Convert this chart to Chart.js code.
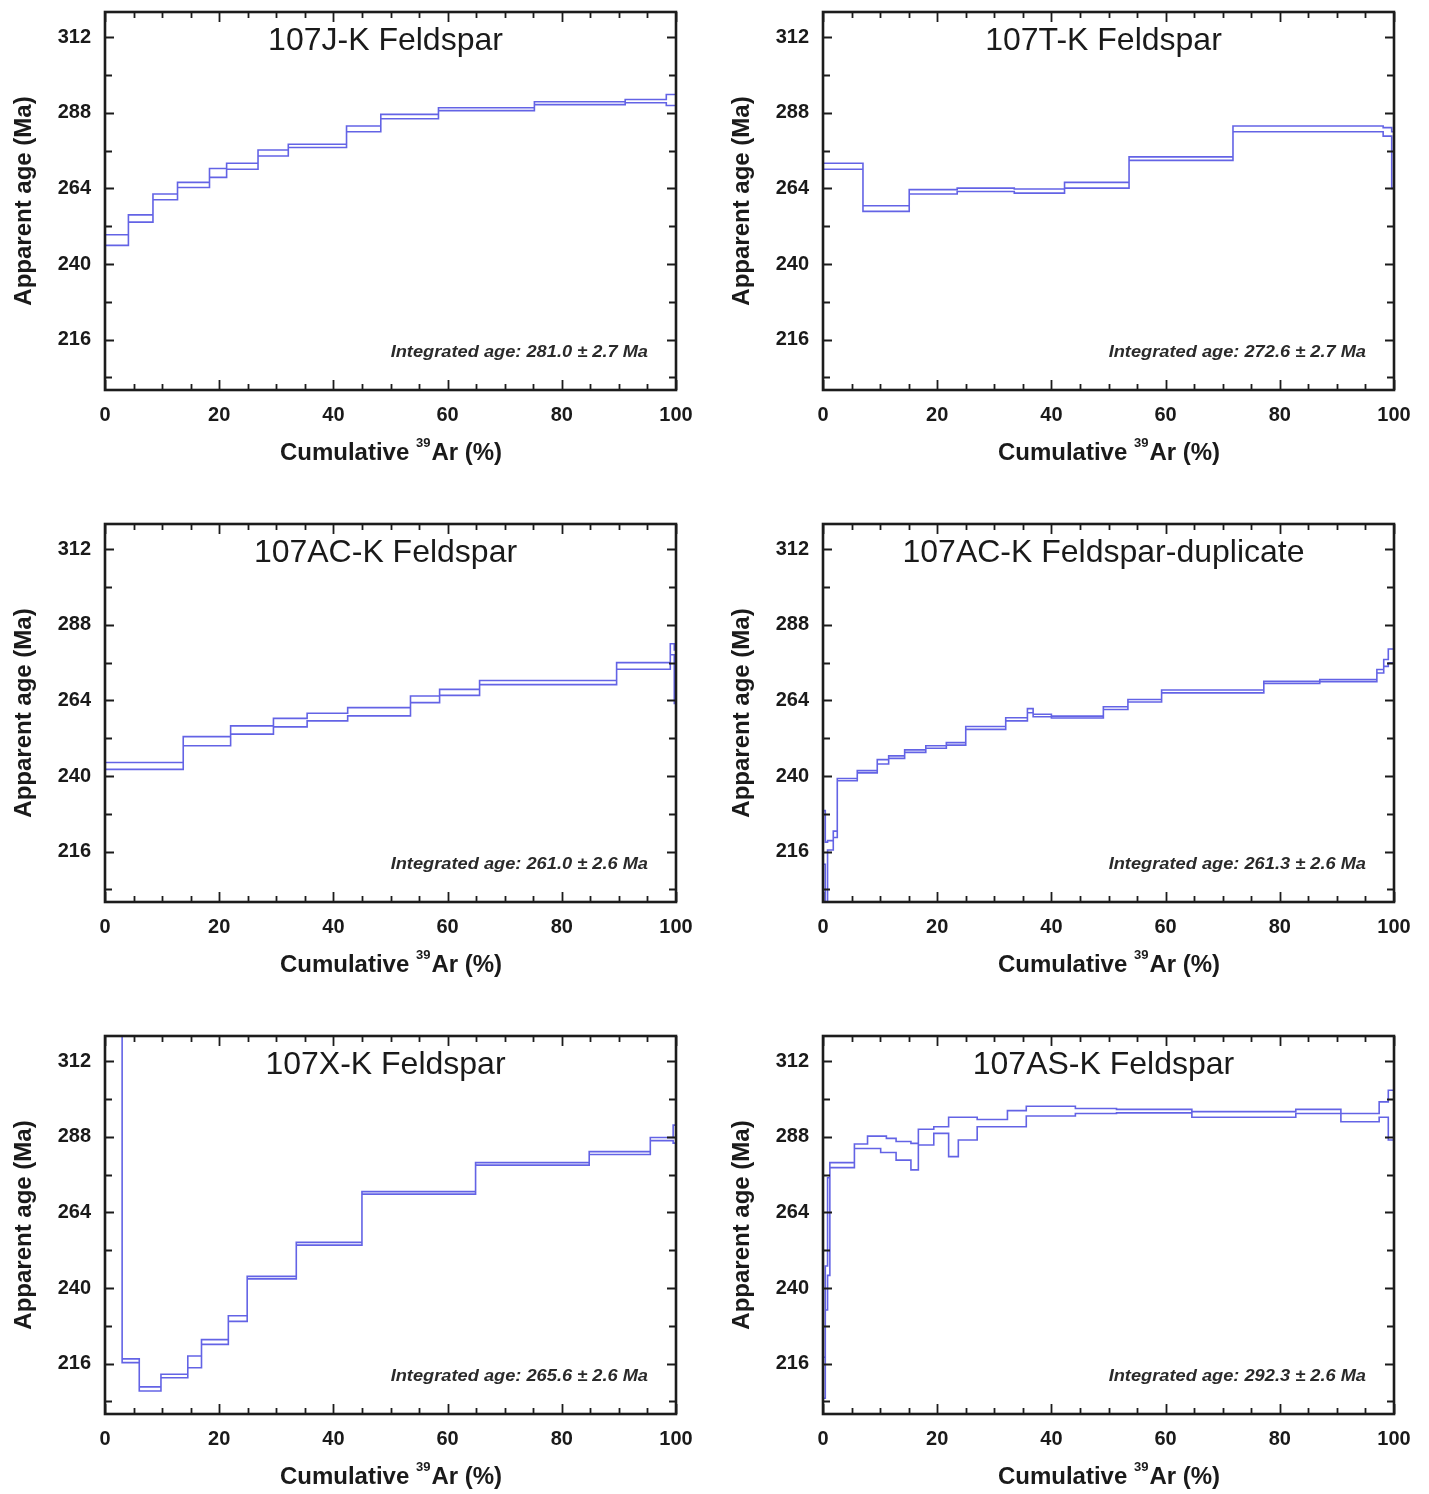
<!DOCTYPE html>
<html>
<head>
<meta charset="utf-8">
<title>K-feldspar age spectra</title>
<script src="https://cdn.jsdelivr.net/npm/chart.js@4.4.0/dist/chart.umd.min.js"></script>
<style>
  body { margin: 0; background: #fff; }
  #wrap { position: relative; width: 1429px; height: 1494px; overflow: hidden; }
  .panel { position: absolute; width: 714px; height: 500px; }
</style>
</head>
<body>
<div id="wrap">
  <div class="panel" style="left:0;top:0"><canvas id="c0" width="714" height="500"></canvas></div>
  <div class="panel" style="left:718px;top:0"><canvas id="c1" width="714" height="500"></canvas></div>
  <div class="panel" style="left:0;top:512px"><canvas id="c2" width="714" height="500"></canvas></div>
  <div class="panel" style="left:718px;top:512px"><canvas id="c3" width="714" height="500"></canvas></div>
  <div class="panel" style="left:0;top:1024px"><canvas id="c4" width="714" height="500"></canvas></div>
  <div class="panel" style="left:718px;top:1024px"><canvas id="c5" width="714" height="500"></canvas></div>
</div>
<script>
// axis ticks
var xTickVals = [0, 20, 40, 60, 80, 100];
var yTickVals = [216, 240, 264, 288, 312];

var sampleTitles = ['107J-K Feldspar', '107T-K Feldspar', '107AC-K Feldspar',
  '107AC-K Feldspar-duplicate', '107X-K Feldspar', '107AS-K Feldspar'];
var integratedAges = ['281.0 ± 2.7', '272.6 ± 2.7', '261.0 ± 2.6', '261.3 ± 2.6', '265.6 ± 2.6', '292.3 ± 2.6'];

// step edges (cumulative 39Ar %), then upper / lower age of each step (Ma)
var jCum = [0, 4.1, 8.4, 12.7, 18.3, 21.3, 26.8, 32.1, 42.3, 48.3, 58.4, 75.2, 91.1, 98.3, 100];
var jHi = [249.3, 255.6, 262.2, 265.9, 270.3, 272.0, 276.2, 278.0, 283.8, 287.5, 289.6, 291.5, 292.2, 293.8];
var jLo = [245.9, 253.3, 260.4, 264.3, 267.5, 270.1, 274.3, 277.0, 282.0, 286.1, 288.7, 290.6, 291.2, 290.3];

var tCum = [0, 7.0, 15.1, 23.5, 33.5, 42.3, 53.6, 71.8, 98.1, 99.6, 100];
var tHi = [272.0, 258.5, 263.6, 264.1, 263.8, 265.9, 274.0, 283.8, 283.3, 282.0];
var tLo = [270.1, 256.7, 262.2, 263.0, 262.5, 264.1, 272.9, 282.0, 280.6, 264.0];

var acCum = [0, 13.7, 22.0, 29.5, 35.4, 42.5, 53.5, 58.6, 65.6, 89.6, 99.0, 99.7, 100];
var acHi = [244.3, 252.5, 255.9, 258.3, 259.9, 261.7, 265.4, 267.5, 270.3, 276.0, 282.0, 280.0];
var acLo = [242.1, 249.6, 253.3, 255.6, 257.5, 259.1, 263.3, 265.6, 269.0, 273.9, 278.5, 263.0];

var dupCum = [0, 0.4, 0.8, 1.8, 2.5, 6.0, 9.5, 11.5, 14.3, 18.0, 21.6, 25.0, 32.0, 35.8, 36.8, 40.0,
  49.1, 53.4, 59.3, 77.2, 87.0, 97.0, 98.2, 99.0, 100];
var dupHi = [229, 219, 219.5, 222.5, 239.2, 241.7, 245.2, 246.4, 248.3, 249.6, 250.6, 255.7, 258.5, 261.4,
  259.6, 259.0, 262.0, 264.3, 267.3, 270.1, 270.6, 273.8, 277.0, 280.3];
var dupLo = [212, 195, 216.5, 220.5, 238.5, 241.0, 243.8, 245.6, 247.5, 248.8, 249.8, 254.8, 257.5, 260.1,
  258.8, 258.4, 261.1, 263.5, 266.4, 269.4, 269.9, 272.7, 274.8, 275.9];

var xCum = [0, 3.0, 6.0, 9.8, 14.5, 16.9, 21.6, 24.9, 33.5, 45.0, 64.9, 84.8, 95.5, 99.5, 100];
var xHi = [340, 217.5, 208.6, 212.6, 218.4, 223.6, 231.2, 243.7, 254.5, 270.6, 279.8, 283.3, 287.8, 291.7];
var xLo = [330, 216.3, 207.3, 211.5, 214.7, 222.1, 229.4, 242.9, 253.6, 269.8, 279.0, 282.4, 286.8, 286.0];

var asCum = [0, 0.4, 0.8, 1.2, 5.5, 7.8, 10.1, 11.1, 12.8, 15.4, 16.7, 19.4, 22.0, 23.7, 27.0, 32.3,
  35.6, 44.2, 51.4, 64.6, 82.8, 90.7, 97.4, 99.0, 100];
var asHi = [218, 247, 275, 279.8, 285.7, 288.2, 288.2, 287.5, 286.5, 285.9, 290.4, 291.2, 294.2, 294.2,
  293.5, 296.3, 297.7, 297.0, 296.7, 296.0, 296.7, 295.4, 299.1, 302.8];
var asLo = [205, 233, 244, 278.2, 284.3, 284.3, 283.0, 283.0, 280.6, 277.5, 285.4, 289.1, 281.7, 287.0,
  291.2, 291.2, 294.6, 295.4, 295.6, 294.2, 295.4, 292.8, 294.2, 287.0];

var spectra = [[jCum, jHi, jLo], [tCum, tHi, tLo], [acCum, acHi, acLo],
  [dupCum, dupHi, dupLo], [xCum, xHi, xLo], [asCum, asHi, asLo]];

// closed outline of the step boxes: top edge left->right, bottom edge right->left
function outline(cum, hi, lo) {
  var pts = [];
  for (var i = 0; i < hi.length; i++) {
    pts.push({x: cum[i], y: hi[i]});
    pts.push({x: cum[i + 1], y: hi[i]});
  }
  for (var k = lo.length - 1; k >= 0; k--) {
    pts.push({x: cum[k + 1], y: lo[k]});
    pts.push({x: cum[k], y: lo[k]});
  }
  pts.push({x: cum[0], y: hi[0]});
  return pts;
}

var FONT = '"Liberation Sans", Arial, Helvetica, sans-serif';

// frame, inward ticks, panel title and text labels
var frameTicks = {
  id: 'frameTicks',
  afterDraw: function(chart, args, opts) {
    var ctx = chart.ctx, a = chart.chartArea;
    var xs = chart.scales.x, ys = chart.scales.y;
    ctx.save();
    ctx.strokeStyle = '#1c1c1c';
    ctx.lineWidth = 1.8;
    ctx.beginPath();
    for (var v = 0; v <= 100; v += 5) {
      var px = Math.round(xs.getPixelForValue(v)) + 0.5;
      var len = xTickVals.indexOf(v) >= 0 ? 10 : 6;
      ctx.moveTo(px, a.bottom); ctx.lineTo(px, a.bottom - len);
      ctx.moveTo(px, a.top); ctx.lineTo(px, a.top + len);
    }
    for (var w = 204; w < 320; w += 12) {
      var py = Math.round(ys.getPixelForValue(w)) + 0.5;
      var l2 = yTickVals.indexOf(w) >= 0 ? 9 : 7;
      ctx.moveTo(a.left, py); ctx.lineTo(a.left + l2, py);
      ctx.moveTo(a.right, py); ctx.lineTo(a.right - l2, py);
    }
    ctx.stroke();
    ctx.lineWidth = 2.6;
    ctx.strokeRect(a.left, a.top, a.right - a.left, a.bottom - a.top);

    ctx.fillStyle = '#1a1a1a';
    ctx.textBaseline = 'middle';
    // sample name
    ctx.textAlign = 'center';
    ctx.font = '32px ' + FONT;
    ctx.fillText(opts.title, (a.left + a.right) / 2 - 5, a.top + 29);

    // integrated age, slightly widened like the original
    ctx.save();
    ctx.font = 'italic bold 16px ' + FONT;
    ctx.fillStyle = '#2a2a2a';
    ctx.textAlign = 'right';
    ctx.translate(a.right - 28, a.bottom - 37);
    ctx.scale(1.14, 1);
    ctx.fillText('Integrated age: ' + opts.age + ' Ma', 0, 0);
    ctx.restore();

    // y axis title
    ctx.save();
    ctx.translate(24, (a.top + a.bottom) / 2);
    ctx.rotate(-Math.PI / 2);
    ctx.font = 'bold 24px ' + FONT;
    ctx.textAlign = 'center';
    ctx.fillText('Apparent age (Ma)', 0, 0);
    ctx.restore();

    // x axis title with superscript 39
    var t1 = 'Cumulative ', t2 = '39', t3 = 'Ar (%)';
    var big = 'bold 24px ' + FONT, small = 'bold 13px ' + FONT;
    ctx.font = big; var w1 = ctx.measureText(t1).width, w3 = ctx.measureText(t3).width;
    ctx.font = small; var w2 = ctx.measureText(t2).width;
    var x0 = (a.left + a.right) / 2 - (w1 + w2 + w3) / 2, ty = a.bottom + 63;
    ctx.textAlign = 'left';
    ctx.font = big; ctx.fillText(t1, x0, ty);
    ctx.font = small; ctx.fillText(t2, x0 + w1, ty - 10);
    ctx.font = big; ctx.fillText(t3, x0 + w1 + w2 + 1, ty);
    ctx.restore();
  }
};

spectra.forEach(function(sp, i) {
  new Chart(document.getElementById('c' + i), {
    type: 'line',
    data: {
      datasets: [{
        data: outline(sp[0], sp[1], sp[2]),
        borderColor: 'rgba(60, 60, 222, 0.8)',
        borderWidth: 1.6,
        pointRadius: 0,
        tension: 0,
        fill: false
      }]
    },
    options: {
      responsive: false,
      animation: false,
      events: [],
      layout: { padding: { top: 12, right: 38, left: 0, bottom: 0 } },
      plugins: {
        legend: { display: false },
        tooltip: { enabled: false },
        frameTicks: { title: sampleTitles[i], age: integratedAges[i] }
      },
      scales: {
        x: {
          type: 'linear', min: 0, max: 100,
          grid: { display: false, drawTicks: false },
          border: { display: false },
          afterBuildTicks: function(s) { s.ticks = xTickVals.map(function(v) { return {value: v}; }); },
          afterFit: function(s) { s.height = 110; s.paddingLeft = 0; s.paddingRight = 0; },
          ticks: { padding: 13, autoSkip: false, maxRotation: 0, color: '#1a1a1a',
            font: { family: FONT, size: 20, weight: 'bold' } }
        },
        y: {
          type: 'linear', min: 200, max: 320,
          grid: { display: false, drawTicks: false },
          border: { display: false },
          afterBuildTicks: function(s) { s.ticks = yTickVals.map(function(v) { return {value: v}; }); },
          afterFit: function(s) { s.width = 105; s.paddingTop = 0; s.paddingBottom = 0; },
          ticks: { padding: 14, autoSkip: false, color: '#1a1a1a',
            font: { family: FONT, size: 20, weight: 'bold' } }
        }
      }
    },
    plugins: [frameTicks]
  });
});
</script>
</body>
</html>
